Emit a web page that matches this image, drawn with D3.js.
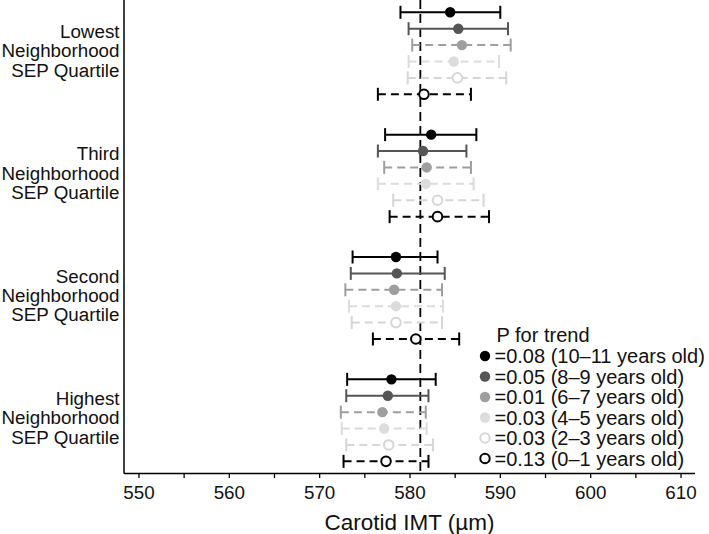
<!DOCTYPE html>
<html>
<head>
<meta charset="utf-8">
<script src="https://cdn.jsdelivr.net/npm/d3@7"></script>
<style>
  html, body { margin: 0; padding: 0; background: #fff; }
  svg { display: block; font-family: "Liberation Sans", Arial, Helvetica, sans-serif; }
</style>
</head>
<body>
<svg id="chart" width="709" height="534"></svg>
<script>
// ---- Data ----
const quartiles = ["Lowest", "Third", "Second", "Highest"];
const quartileLabelLines = ["Neighborhood", "SEP Quartile"];
const ages = ["10\u201311", "8\u20139", "6\u20137", "4\u20135", "2\u20133", "0\u20131"];
const pTrend = ["0.08", "0.05", "0.01", "0.03", "0.03", "0.13"];

// mean IMT per quartile (rows follow ages order)
const meanLowest  = [584.5, 585.4, 585.8, 584.9, 585.3, 581.6];
const meanThird   = [582.4, 581.5, 581.9, 581.8, 583.1, 583.1];
const meanSecond  = [578.5, 578.6, 578.3, 578.5, 578.5, 580.7];
const meanHighest = [578.0, 577.6, 577.0, 577.2, 577.7, 577.4];

const lowerLowest  = [579.0, 579.9, 580.3, 579.9, 579.8, 576.5];
const lowerThird   = [577.3, 576.5, 577.2, 576.5, 578.2, 577.8];
const lowerSecond  = [573.7, 573.5, 572.9, 573.3, 573.6, 575.95];
const lowerHighest = [573.1, 573.0, 572.4, 572.5, 573.0, 572.7];

const upperLowest  = [590.05, 590.9, 591.2, 589.9, 590.7, 586.8];
const upperThird   = [587.4, 586.3, 586.8, 587.1, 588.2, 588.8];
const upperSecond  = [583.1, 583.9, 583.6, 583.7, 583.6, 585.5];
const upperHighest = [582.9, 582.1, 581.8, 581.9, 582.6, 582.1];

const referenceLine = 581.2;
const xTicksMajor = [550, 560, 570, 580, 590, 600, 610];
const xTicksAll = [550, 555, 560, 565, 570, 575, 580, 585, 590, 595, 600, 605, 610];
const xTitle = "Carotid IMT (\u00b5m)";
const legendTitle = "P for trend";

// ---- Styles per age series ----
const seriesStyle = [
  { stroke: "#000000", fill: "#000000", dash: null,  open: false },
  { stroke: "#555555", fill: "#555555", dash: null,  open: false },
  { stroke: "#9e9e9e", fill: "#9e9e9e", dash: "8,5", open: false },
  { stroke: "#dcdcdc", fill: "#dcdcdc", dash: "8,5", open: false },
  { stroke: "#d6d6d6", fill: "#ffffff", dash: "8,5", open: true },
  { stroke: "#000000", fill: "#ffffff", dash: "8,5", open: true }
];

const means = [meanLowest, meanThird, meanSecond, meanHighest];
const lowers = [lowerLowest, lowerThird, lowerSecond, lowerHighest];
const uppers = [upperLowest, upperThird, upperSecond, upperHighest];

const rows = [];
quartiles.forEach((q, g) => {
  ages.forEach((a, r) => {
    rows.push({ g, r, mean: means[g][r], lo: lowers[g][r], hi: uppers[g][r] });
  });
});

// ---- Layout ----
const svg = d3.select("#chart");
const plotLeft = 124, plotRight = 695, plotBottom = 473, plotTop = 0;
const groupStep = 7.46; // in row units

const x = d3.scaleLinear().domain([548.4, 611.6]).range([plotLeft, plotRight]);
const y = d3.scaleLinear().domain([0, 1]).range([12.3, 28.7]);
const pos = d => d.g * groupStep + d.r;

const font = "\"Liberation Sans\", Arial, Helvetica, sans-serif";

// Reference dashed vertical line
svg.append("line")
  .attr("x1", x(referenceLine)).attr("x2", x(referenceLine))
  .attr("y1", plotTop).attr("y2", plotBottom)
  .attr("stroke", "#000").attr("stroke-width", 1.8)
  .attr("stroke-dasharray", "9,5");

// Error bars
const bars = svg.append("g");
rows.forEach(d => {
  const st = seriesStyle[d.r];
  const yy = y(pos(d));
  const gb = bars.append("g");
  gb.append("line")
    .attr("x1", x(d.lo)).attr("x2", x(d.hi))
    .attr("y1", yy).attr("y2", yy)
    .attr("stroke", st.stroke).attr("stroke-width", 2)
    .attr("stroke-dasharray", st.dash);
  [d.lo, d.hi].forEach(v => {
    gb.append("line")
      .attr("x1", x(v)).attr("x2", x(v))
      .attr("y1", yy - 6.5).attr("y2", yy + 6.5)
      .attr("stroke", st.stroke).attr("stroke-width", 2);
  });
  gb.append("circle")
    .attr("cx", x(d.mean)).attr("cy", yy)
    .attr("r", st.open ? 4.8 : 5.2)
    .attr("fill", st.fill)
    .attr("stroke", st.open ? st.stroke : "none")
    .attr("stroke-width", st.open ? 2 : 0);
});

// Axes lines
svg.append("line").attr("x1", plotLeft).attr("x2", plotLeft)
  .attr("y1", plotTop).attr("y2", plotBottom + 0.5)
  .attr("stroke", "#000").attr("stroke-width", 1.5);
const xAxis = d3.axisBottom(x).tickValues(xTicksAll).tickSize(5).tickSizeOuter(0)
  .tickFormat(v => xTicksMajor.includes(v) ? d3.format("d")(v) : "");
const gx = svg.append("g").attr("transform", `translate(0,${plotBottom})`).call(xAxis);
gx.select(".domain").attr("d", `M${plotLeft},0.5H${plotRight}`).attr("stroke-width", 1.5);
gx.selectAll(".tick line").attr("stroke-width", 1.3);
gx.selectAll(".tick text")
  .attr("font-family", font).attr("font-size", 18.8).attr("fill", "#111")
  .attr("dy", null).attr("y", 25.5);

// X title
svg.append("text")
  .attr("x", (plotLeft + plotRight) / 2).attr("y", 530)
  .attr("text-anchor", "middle")
  .attr("font-family", font).attr("font-size", 22.5).attr("fill", "#111")
  .text(xTitle);

// Quartile labels
quartiles.forEach((q, g) => {
  const center = y(g * groupStep + 2.5) - 2.5;
  const lines = [q, ...quartileLabelLines];
  lines.forEach((t, i) => {
    svg.append("text")
      .attr("x", 119.5).attr("y", center + (i - 1) * 19.2 + 6.5)
      .attr("text-anchor", "end")
      .attr("font-family", font).attr("font-size", 18.8).attr("fill", "#111")
      .text(t);
  });
});

// Legend
const legend = svg.append("g");
legend.append("text")
  .attr("x", 496.5).attr("y", 342)
  .attr("font-family", font).attr("font-size", 20).attr("fill", "#111")
  .text(legendTitle);
ages.forEach((a, i) => {
  const st = seriesStyle[i];
  const cy = 356 + i * 20.5;
  legend.append("circle")
    .attr("cx", 485).attr("cy", cy)
    .attr("r", st.open ? 4.7 : 5.2)
    .attr("fill", st.fill)
    .attr("stroke", st.open ? st.stroke : "none")
    .attr("stroke-width", st.open ? 2 : 0);
  legend.append("text")
    .attr("x", 494.5).attr("y", cy + 7)
    .attr("font-family", font).attr("font-size", 20).attr("fill", "#111")
    .text(`=${pTrend[i]} (${a} years old)`);
});
</script>
</body>
</html>
